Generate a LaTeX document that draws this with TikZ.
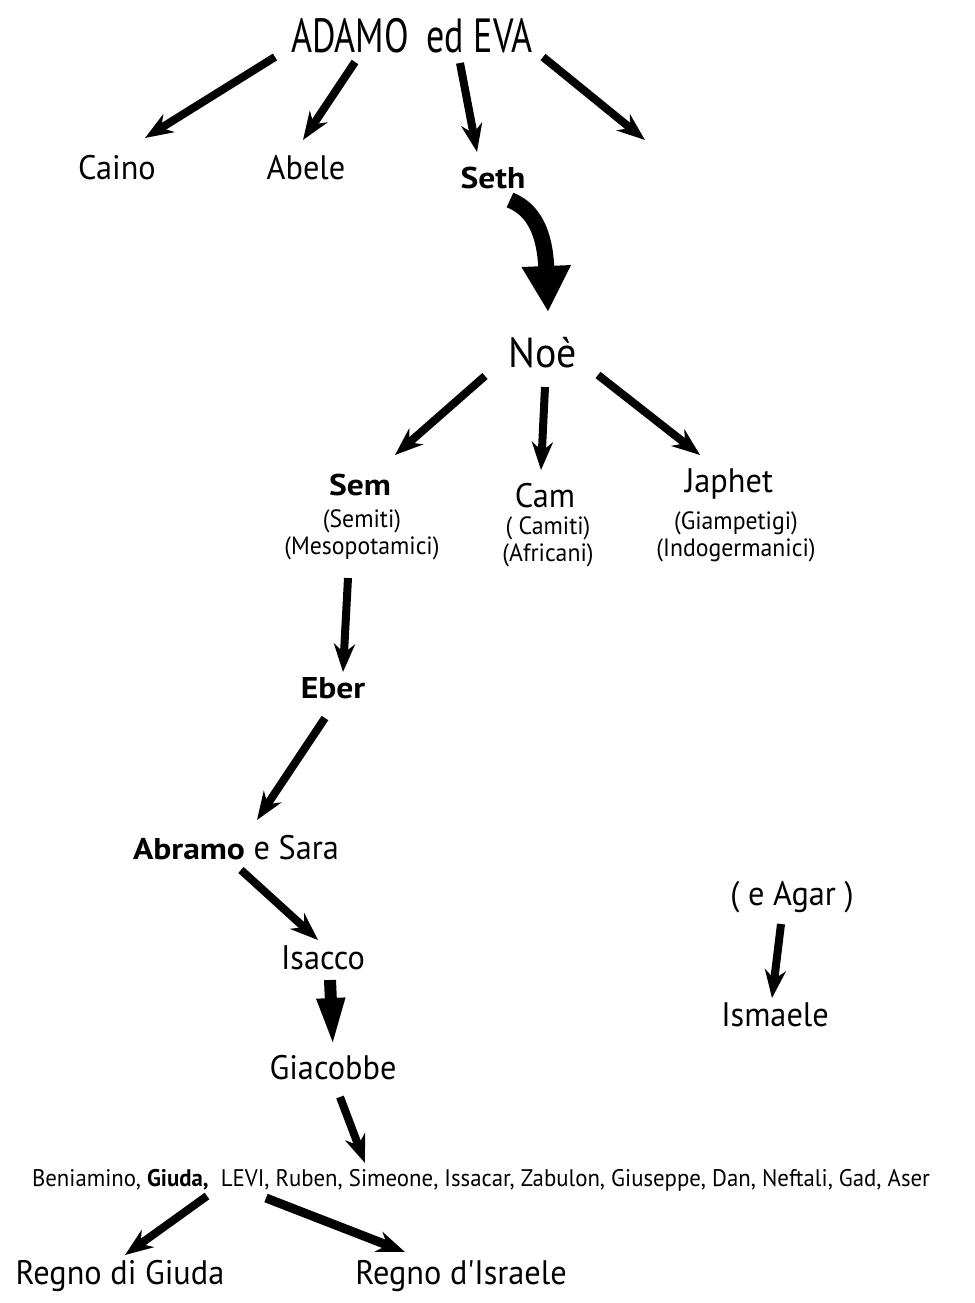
\documentclass[tikz,border=0pt]{standalone}
\usepackage{fontspec}
\setmainfont{PT Sans}
\newfontfamily\hand[FakeStretch=0.95]{PT Sans}
\newfontfamily\tall[FakeStretch=0.75]{PT Sans}
\newfontfamily\heavy[FakeStretch=1.12]{PT Sans}
\usetikzlibrary{arrows.meta}

\begin{document}
\begin{tikzpicture}[
    x=1pt, y=1pt,
    every node/.style={inner sep=0pt, text=black},
    heading/.style={font=\tall\fontsize{48}{50}\selectfont},
    person/.style={font=\hand\fontsize{34}{36}\selectfont},
    bigperson/.style={font=\hand\fontsize{42}{44}\selectfont},
    boldperson/.style={font=\heavy\bfseries\fontsize{30}{32}\selectfont},
    note/.style={font=\hand\fontsize{25}{27}\selectfont, align=center},
    tribe/.style={font=\hand\fontsize{24}{26}\selectfont},
    arr/.style={line width=8pt, -{Stealth[length=28pt,width=21pt,inset=9pt]}},
    fat/.style={line width=16pt, -{Triangle[length=46pt,width=46pt]}},
    narrowfat/.style={line width=12pt, -{Triangle[length=50pt,width=25pt]}},
]
\useasboundingbox (0,0) rectangle (974,-1303);

% ---------------------------------------------------------------- first parents
\node[heading] (adam) at (412,-36) {ADAMO\, ed EVA};
\node[person] (caino) at (117,-168) {Caino};
\node[person] (abele) at (306,-168) {Abele};
\node[boldperson] (seth) at (493,-178) {Seth};
\coordinate (lost) at (645,-140);

\draw[arr] ([shift={(-137,-21)}]adam.center) -- ([shift={(28,30)}]caino.center);
\draw[arr] ([shift={(-57,-26)}]adam.center) -- ([shift={(-3,28)}]abele.center);
\draw[arr] ([shift={(48,-27)}]adam.center) -- ([shift={(-16,26)}]seth.center);
\draw[arr] ([shift={(131,-21)}]adam.center) -- (lost);

% ---------------------------------------------------------------- Noe and sons
\node[bigperson] (noe) at (543,-353) {Noè};
\draw[fat] ([shift={(17,-22)}]seth.center)
    .. controls ([shift={(42,-32)}]seth.center) and ([shift={(52,-57)}]seth.center)
    .. ([shift={(5,41)}]noe.center);

\node[boldperson] (sem) at (360,-485) {Sem};
\node[note] (semnote) at (362,-535) {(Semiti)\\(Mesopotamici)};
\node[person] (cam) at (545,-496) {Cam};
\node[note] (camnote) at (548,-542) {( Camiti)\\(Africani)};
\node[person] (japhet) at (729,-484) {Japhet};
\node[note] (japnote) at (736,-537) {(Giampetigi)\\(Indogermanici)};

\draw[arr] ([shift={(-58,-23)}]noe.center) -- ([shift={(35,30)}]sem.center);
\draw[arr] ([shift={(2,-34)}]noe.center) -- ([shift={(-4,26)}]cam.center);
\draw[arr] ([shift={(55,-22)}]noe.center) -- ([shift={(-29,29)}]japhet.center);

% ---------------------------------------------------------------- Eber to Giacobbe
\node[boldperson] (eber) at (333,-688) {Eber};
\node[person] (abramo) at (236,-848) {{\heavy\bfseries\fontsize{30}{32}\selectfont Abramo} e Sara};
\node[person] (isacco) at (323,-958) {Isacco};
\node[person] (giacobbe) at (333,-1068) {Giacobbe};

\draw[arr] ([shift={(-14,-43)}]semnote.center) -- ([shift={(10,16)}]eber.center);
\draw[arr] ([shift={(-8,-30)}]eber.center) -- ([shift={(21,28)}]abramo.center);
\draw[arr] ([shift={(5,-22)}]abramo.center) -- ([shift={(-5,18)}]isacco.center);
\draw[narrowfat] ([shift={(7,-22)}]isacco.center) -- ([shift={(0,20)}]giacobbe.center);

% ---------------------------------------------------------------- Agar
\node[person] (agar) at (792,-897) {( e Agar )};
\node[person] (ismaele) at (775,-1015) {Ismaele};
\draw[arr] ([shift={(-11,-27)}]agar.center) -- ([shift={(-3,17)}]ismaele.center);

% ---------------------------------------------------------------- the twelve
\node[tribe] (tribes) at (481,-1180) {Beniamino, {\bfseries Giuda,}\ \ LEVI, Ruben, Simeone, Issacar, Zabulon, Giuseppe, Dan, Neftali, Gad, Aser};
\node[person] (giuda) at (120,-1276) {Regno di Giuda};
\node[person] (israele) at (461,-1276) {Regno d'Israele};

\draw[arr] ([shift={(7,-29)}]giacobbe.center) -- ([shift={(-116,17)}]tribes.center);
\draw[arr] ([shift={(-274,-16)}]tribes.center) -- ([shift={(5,21)}]giuda.center);
\draw[arr, line width=9pt] ([shift={(-215,-18)}]tribes.center) -- ([shift={(-56,24)}]israele.center);

\end{tikzpicture}
\end{document}
